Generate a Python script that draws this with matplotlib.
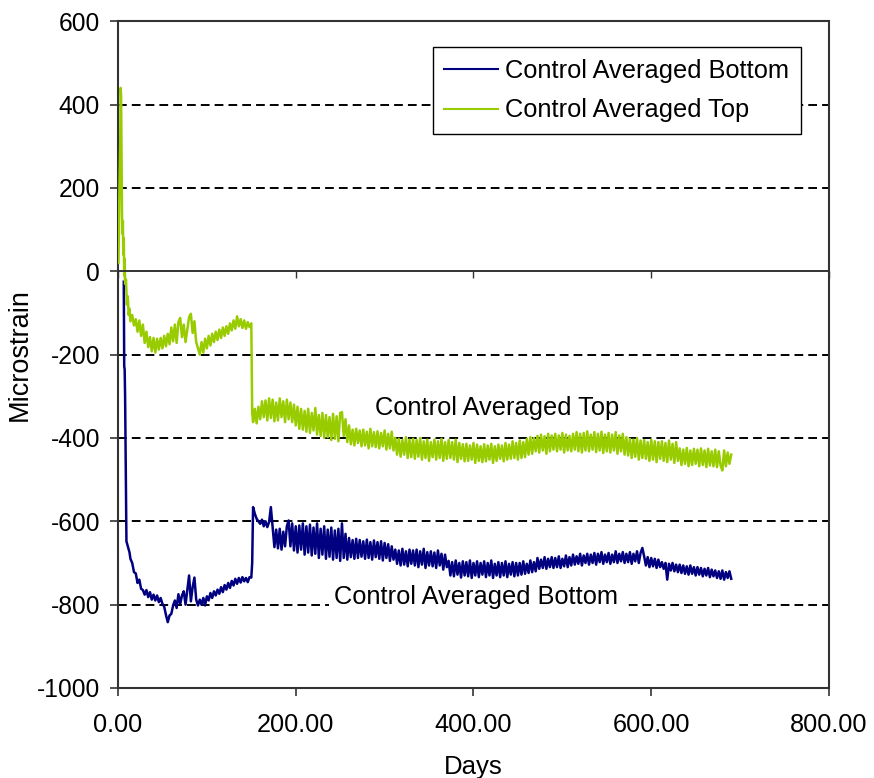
import numpy as np
import matplotlib
matplotlib.use("Agg")
from matplotlib import pyplot as plt

plt.rcParams['font.family'] = ['Liberation Sans', 'DejaVu Sans']
plt.rcParams['axes.unicode_minus'] = False

# early part of each gauge record (first ~150 days), (day, microstrain)
top_early = [(0.5, 20), (1.5, 180), (2.5, 300), (3, 440), (3.5, 420), (4, 260), (4.5, 140),
             (5, 90), (5.5, 120), (6, 40), (6.5, 80), (7, -10), (7.5, 30), (8, -30), (9, -20),
             (10, -80), (11, -60), (12, -105), (13, -90), (14, -120), (16, -105), (18, -130),
             (20, -115), (22, -145), (24, -118), (26, -155), (28, -128), (30, -172),
             (32, -145), (34, -182), (36, -158), (38, -192), (40, -160), (42, -195),
             (44, -162), (46, -188), (48, -160), (50, -185), (52, -155), (54, -180),
             (56, -150), (58, -175), (60, -135), (62, -168), (64, -128), (66, -172),
             (68, -122), (70, -112), (72, -158), (74, -128), (76, -170), (78, -140),
             (80, -110), (82, -102), (84, -148), (86, -120), (88, -170), (90, -185),
             (92, -200), (94, -170), (96, -195), (98, -162), (100, -185), (102, -155),
             (104, -178), (106, -150), (108, -170), (110, -145), (112, -165), (114, -140),
             (116, -160), (118, -135), (120, -155), (122, -132), (124, -150), (126, -125),
             (128, -142), (130, -118), (132, -138), (134, -108), (136, -132), (138, -115),
             (140, -136), (142, -118), (144, -138), (146, -122), (148, -134), (150, -125),
             (151, -340)]

bot_early = [(6.5, -25), (7, -228), (7.5, -235), (8, -300), (8.5, -420), (9, -560),
             (9.5, -648), (10, -652), (11, -660), (12, -668), (13, -675), (14, -690),
             (16, -700), (18, -722), (20, -725), (22, -748), (24, -740), (26, -762),
             (28, -765), (30, -776), (32, -765), (34, -782), (36, -770), (38, -788),
             (40, -776), (42, -790), (44, -778), (46, -794), (48, -784), (50, -798),
             (52, -805), (54, -825), (56, -842), (58, -826), (60, -822), (62, -802),
             (64, -790), (66, -808), (68, -775), (70, -798), (72, -778), (74, -768),
             (76, -800), (78, -766), (80, -730), (82, -792), (84, -758), (86, -735),
             (88, -788), (90, -802), (92, -788), (94, -800), (96, -784), (98, -802),
             (100, -780), (102, -790), (104, -772), (106, -784), (108, -768), (110, -778),
             (112, -764), (114, -774), (116, -758), (118, -770), (120, -753), (122, -764),
             (124, -748), (126, -760), (128, -743), (130, -754), (132, -738), (134, -750),
             (136, -736), (138, -747), (140, -734), (142, -744), (144, -736), (146, -746),
             (148, -734), (150, -735), (151, -700)]

# later part, logged every 2 days from day 152 to day 690
days_late = np.arange(152, 691, 2)

top_vals_late = [
    -362, -330, -365, -325, -355, -312, -350, -310, -358, -305,
    -352, -308, -360, -315, -358, -305, -350, -312, -362, -308,
    -355, -315, -362, -320, -370, -325, -378, -330, -380, -335,
    -385, -330, -388, -340, -382, -328, -392, -345, -395, -340,
    -400, -345, -398, -350, -405, -342, -402, -348, -408, -340,
    -338, -395, -355, -410, -370, -415, -380, -418, -378, -412,
    -382, -420, -380, -418, -385, -425, -378, -420, -386, -422,
    -384, -425, -388, -420, -382, -428, -390, -425, -385, -430,
    -400, -440, -402, -445, -405, -440, -398, -448, -404, -446,
    -402, -450, -405, -445, -400, -452, -408, -448, -404, -455,
    -410, -446, -404, -452, -408, -448, -402, -455, -410, -450,
    -405, -448, -410, -452, -404, -458, -412, -450, -415, -456,
    -414, -455, -418, -452, -412, -460, -416, -455, -420, -458,
    -415, -456, -418, -452, -414, -460, -420, -455, -416, -450,
    -418, -456, -412, -452, -416, -450, -408, -448, -412, -452,
    -406, -448, -410, -446, -402, -440, -398, -438, -400, -432,
    -395, -435, -392, -430, -396, -438, -390, -432, -394, -428,
    -390, -432, -394, -428, -388, -435, -392, -430, -395, -432,
    -390, -428, -386, -432, -390, -435, -388, -430, -384, -432,
    -392, -428, -386, -434, -390, -430, -385, -436, -392, -432,
    -388, -435, -392, -430, -386, -438, -394, -432, -390, -440,
    -398, -442, -402, -448, -404, -445, -400, -452, -406, -448,
    -405, -450, -410, -455, -404, -452, -408, -458, -410, -450,
    -408, -455, -412, -458, -406, -452, -414, -460, -410, -455,
    -425, -465, -428, -462, -424, -468, -430, -465, -426, -462,
    -428, -468, -425, -465, -430, -470, -426, -466, -432, -468,
    -428, -470, -432, -466, -478, -430, -468, -435, -462, -440,
]

bot_vals_late = [
    -566, -582, -594, -600, -606, -596, -612, -600, -614, -602,
    -566, -615, -662, -620, -665, -618, -668, -625, -660, -612,
    -598, -660, -605, -670, -612, -675, -610, -668, -605, -680,
    -612, -675, -608, -682, -615, -678, -605, -688, -618, -680,
    -612, -690, -620, -685, -615, -692, -622, -688, -618, -695,
    -605, -688, -630, -692, -640, -686, -645, -690, -642, -688,
    -645, -685, -648, -690, -644, -688, -650, -692, -646, -686,
    -650, -690, -648, -694, -652, -688, -655, -695, -660, -692,
    -668, -702, -670, -706, -666, -704, -672, -708, -668, -702,
    -670, -706, -668, -710, -672, -704, -666, -712, -674, -706,
    -672, -708, -675, -712, -670, -706, -678, -716, -680, -710,
    -695, -730, -698, -732, -694, -728, -700, -735, -696, -730,
    -698, -732, -694, -736, -700, -730, -696, -734, -700, -728,
    -696, -734, -700, -730, -694, -736, -702, -730, -698, -734,
    -700, -730, -696, -734, -702, -728, -698, -732, -700, -730,
    -700, -728, -696, -726, -702, -724, -694, -722, -698, -720,
    -688, -714, -692, -712, -686, -714, -690, -710, -686, -712,
    -688, -710, -684, -712, -690, -708, -682, -710, -686, -706,
    -680, -704, -684, -702, -678, -706, -682, -700, -678, -704,
    -680, -700, -676, -704, -678, -698, -674, -702, -680, -698,
    -676, -702, -680, -698, -672, -700, -678, -696, -674, -700,
    -678, -698, -674, -702, -678, -696, -672, -700, -676, -664,
    -684, -706, -686, -710, -688, -708, -690, -712, -692, -710,
    -698, -714, -700, -740, -702, -718, -700, -720, -704, -722,
    -704, -724, -706, -726, -708, -728, -706, -726, -710, -730,
    -710, -728, -712, -732, -714, -730, -712, -734, -716, -732,
    -718, -736, -720, -738, -718, -740, -722, -736, -720, -738,
]

x_ticks = [0, 200, 400, 600, 800]
y_ticks = [-1000, -800, -600, -400, -200, 0, 200, 400, 600]
grid_levels = [400, 200, -200, -400, -600, -800]

top_days = np.concatenate([[d for d, v in top_early], days_late])
top_vals = np.concatenate([[v for d, v in top_early], top_vals_late])
bot_days = np.concatenate([[d for d, v in bot_early], days_late])
bot_vals = np.concatenate([[v for d, v in bot_early], bot_vals_late])

navy = '#000080'
green = '#99CC00'
fs = 18.3

fig = plt.figure(figsize=(8.74, 7.78), dpi=100)
ax = fig.add_axes([0.135, 0.1157, 0.8135, 0.857])

for lev in grid_levels:
    ax.axhline(lev, color='k', lw=1.4, linestyle=(0, (4.5, 2.6)), zorder=1)

ax.plot(bot_days, bot_vals, color=navy, lw=1.8, label='Control Averaged Bottom', zorder=3)
ax.plot(top_days, top_vals, color=green, lw=1.8, label='Control Averaged Top', zorder=3)

ax.set_xlim(0, 800)
ax.set_ylim(-1000, 600)
ax.set_xticks(x_ticks)
ax.set_xticklabels(['%.2f' % t for t in x_ticks])
ax.set_yticks(y_ticks)
ax.tick_params(axis='both', direction='out', length=6, width=1.2, color='#333333')
ax.tick_params(axis='x', labelsize=18.2, pad=12)
ax.tick_params(axis='y', labelsize=17.7, pad=7)
for s in ax.spines.values():
    s.set_linewidth(1.5)
    s.set_color('#333333')

ax.set_xlabel('Days', fontsize=18.5, labelpad=13)
ax.set_ylabel('Microstrain', fontsize=19.5, labelpad=3)

# horizontal axis line crossing at zero, with its own small ticks
ax2 = ax.twiny()
ax2.set_xlim(0, 800)
ax2.set_xticks(x_ticks)
ax2.spines['bottom'].set_position(('data', 0))
ax2.spines['bottom'].set_linewidth(1.4)
ax2.spines['bottom'].set_color('#333333')
for side in ['top', 'left', 'right']:
    ax2.spines[side].set_visible(False)
ax2.xaxis.set_ticks_position('bottom')
ax2.tick_params(axis='x', direction='out', length=5, width=1.0, labelbottom=False,
                labeltop=False, color='#333333')

leg = ax.legend(loc='upper left', bbox_to_anchor=(0.443, 0.961), fontsize=fs,
                frameon=True, fancybox=False, edgecolor='k', framealpha=1,
                handlelength=2.1, handletextpad=0.3, labelspacing=0.62,
                borderpad=0.45, borderaxespad=0)
leg.get_frame().set_linewidth(1.0)
for h in leg.get_lines():
    h.set_linewidth(1.5)
leg.set_zorder(5)

ax.text(427, -329, 'Control Averaged Top', fontsize=fs, ha='center', va='center', zorder=4)
ax.text(403, -782, 'Control Averaged Bottom', fontsize=fs, ha='center', va='center',
        zorder=4, bbox=dict(facecolor='white', edgecolor='none', pad=4))

fig.savefig('out.png', dpi=100)
